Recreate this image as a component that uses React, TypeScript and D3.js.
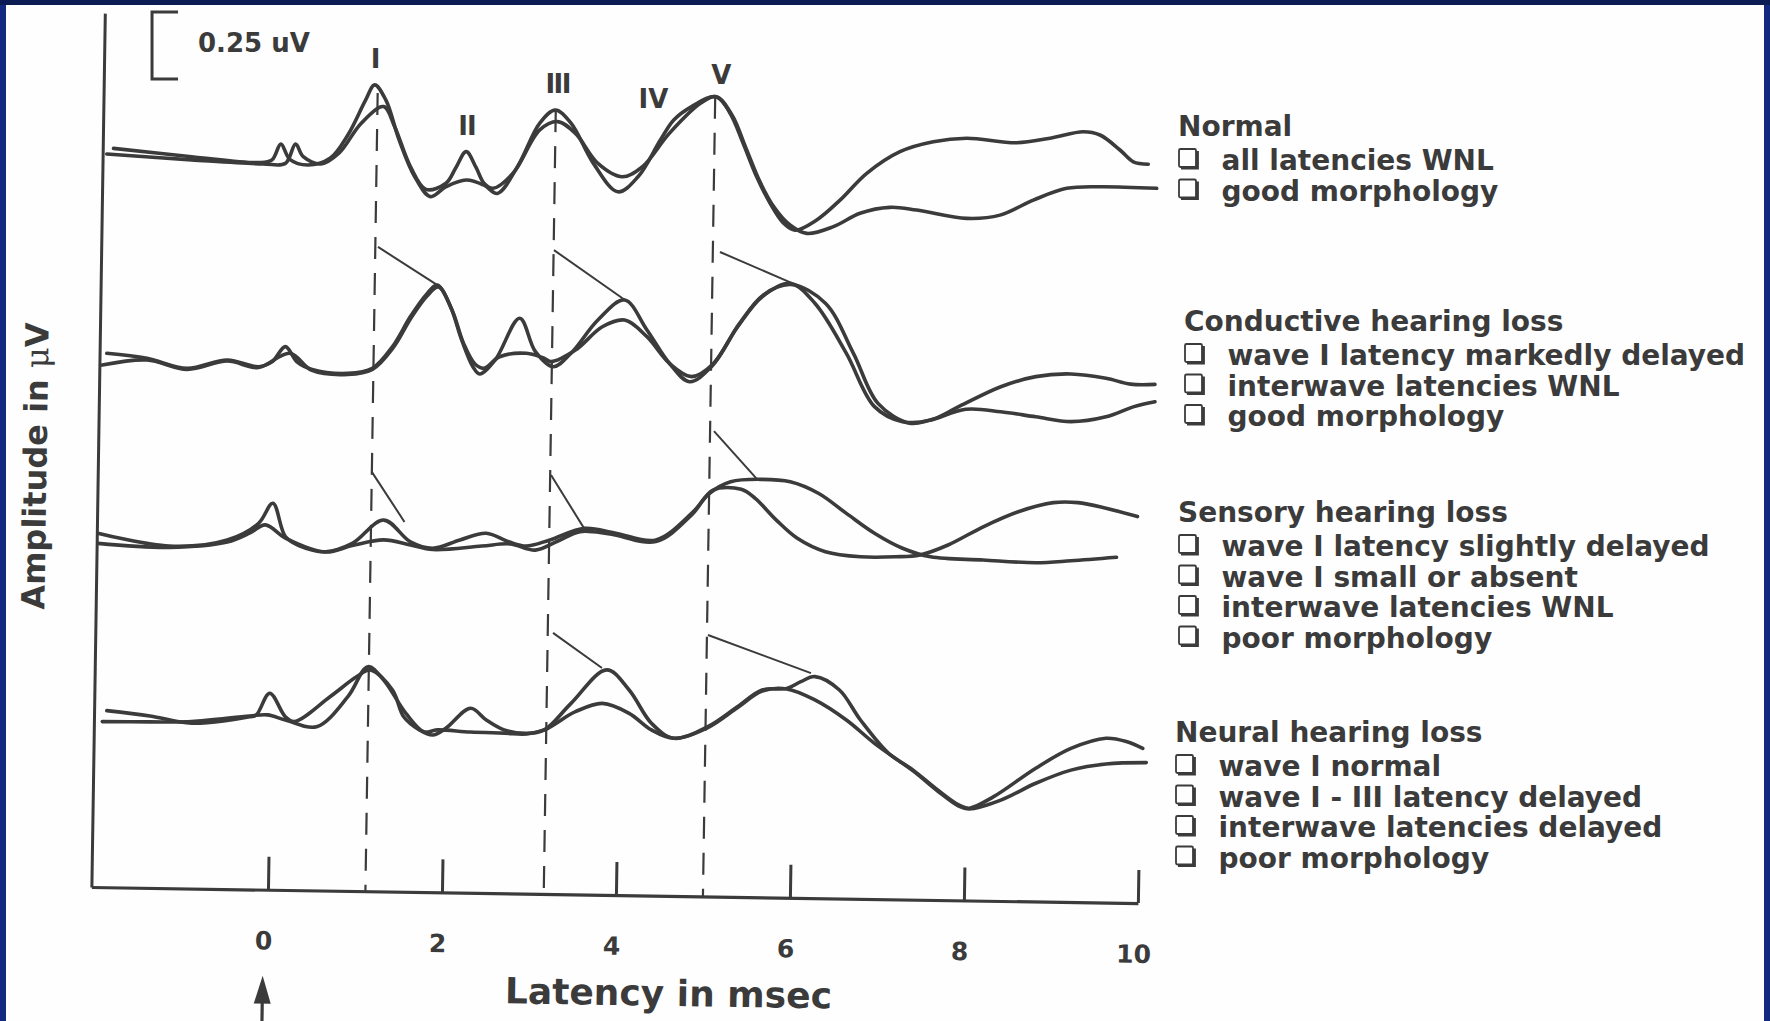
import React, { useEffect, useRef } from "react";
import * as d3 from "d3";

type Pt = [number, number]; // [latency in ms, amplitude in µV]

// ---------- data ----------
const xTicks = [0, 2, 4, 6, 8, 10];

const rowNames = [
  "Normal",
  "Conductive hearing loss",
  "Sensory hearing loss",
  "Neural hearing loss",
];
const rowFindings = [
  ["all latencies WNL", "good morphology"],
  ["wave I latency markedly delayed", "interwave latencies WNL", "good morphology"],
  ["wave I latency slightly delayed", "wave I small or absent", "interwave latencies WNL", "poor morphology"],
  ["wave I normal", "wave I - III latency delayed", "interwave latencies delayed", "poor morphology"],
];

const waveNames = ["I", "II", "III", "IV", "V"];
const waveLatency = [1.236, 2.287, 3.33, 4.43, 5.21];
const waveLabelAmp = [0.306, 0.056, 0.213, 0.157, 0.246];

const refLatency = [1.12, 3.17, 5.0]; // dashed reference lines (I, III, V)
const refTopAmp = [0.229, 0.175, 0.234];

const scaleBarUV = 0.25;

const normalA: Pt[] = [
  [-1.776, 0.006], [-0.878, -0.025], [-0.108, -0.047], [0.046, -0.037], [0.148, 0.022], [0.251, -0.035],
  [0.456, -0.056], [0.713, -0.031], [0.918, 0.056], [1.123, 0.187], [1.225, 0.243], [1.354, 0.187],
  [1.508, 0.037], [1.687, -0.1], [1.867, -0.174], [2.046, -0.137], [2.278, -0.112], [2.483, -0.131],
  [2.637, -0.162], [2.868, -0.062], [3.124, 0.1], [3.303, 0.149], [3.483, 0.1], [3.74, -0.05],
  [4.022, -0.156], [4.253, -0.1], [4.51, 0.037], [4.664, 0.112], [4.869, 0.162], [5.152, 0.199],
  [5.31, 0.138], [5.46, 0.026], [5.617, -0.1], [5.77, -0.198], [5.923, -0.272], [6.057, -0.299],
  [6.307, -0.261], [6.575, -0.187], [6.882, -0.087], [7.264, -0.006], [7.647, 0.031], [8.031, 0.044],
  [8.606, 0.027], [8.989, 0.044], [9.371, 0.068], [9.563, 0.056], [9.793, 0.0], [9.946, -0.044],
  [10.118, -0.053],
];
const normalB: Pt[] = [
  [-1.853, -0.015], [-0.878, -0.037], [-0.057, -0.052], [0.2, -0.05], [0.317, 0.022], [0.405, -0.025],
  [0.609, -0.052], [0.815, -0.012], [1.072, 0.1], [1.329, 0.162], [1.456, 0.087], [1.637, -0.062],
  [1.816, -0.147], [2.046, -0.124], [2.161, -0.065], [2.278, -0.006], [2.391, -0.065], [2.483, -0.124],
  [2.586, -0.143], [2.816, -0.087], [3.124, 0.075], [3.33, 0.106], [3.534, 0.062], [3.792, -0.05],
  [4.074, -0.1], [4.305, -0.062], [4.613, 0.062], [4.971, 0.174], [5.152, 0.199], [5.333, 0.131],
  [5.494, 0.007], [5.655, -0.119], [5.816, -0.213], [6.0, -0.28], [6.192, -0.311], [6.498, -0.286],
  [6.805, -0.236], [7.149, -0.214], [7.456, -0.224], [8.031, -0.255], [8.414, -0.243], [8.797, -0.187],
  [9.18, -0.143], [9.563, -0.137], [10.215, -0.143],
];

const conductiveA: Pt[] = [
  [-1.853, 0.025], [-1.391, 0.006], [-0.93, -0.031], [-0.468, 0.0], [-0.108, -0.025], [0.046, -0.007],
  [0.2, 0.05], [0.333, -0.007], [0.506, -0.035], [0.918, -0.05], [1.2, -0.031], [1.431, 0.05],
  [1.637, 0.162], [1.816, 0.243], [1.944, 0.28], [2.098, 0.199], [2.226, 0.075], [2.355, -0.025],
  [2.432, -0.052], [2.611, 0.0], [2.893, 0.156], [3.074, 0.031], [3.278, -0.025], [3.483, 0.025],
  [3.792, 0.149], [4.099, 0.224], [4.356, 0.112], [4.613, -0.012], [4.844, -0.081], [5.097, -0.025],
  [5.399, 0.124], [5.68, 0.236], [6.003, 0.286], [6.286, 0.212], [6.648, 0.025], [6.971, -0.174],
  [7.293, -0.23], [7.616, -0.224], [7.939, -0.174], [8.423, -0.1], [8.825, -0.062], [9.229, -0.052],
  [9.632, -0.068], [9.914, -0.09], [10.195, -0.091],
];
const conductiveB: Pt[] = [
  [-1.905, -0.019], [-1.391, 0.0], [-0.93, -0.035], [-0.468, -0.004], [-0.108, -0.028], [0.251, 0.025],
  [0.506, -0.039], [0.918, -0.054], [1.2, -0.035], [1.437, 0.045], [1.644, 0.157], [1.828, 0.239],
  [1.96, 0.272], [2.115, 0.187], [2.247, 0.063], [2.379, -0.015], [2.483, -0.031], [2.662, 0.012],
  [2.97, 0.025], [3.176, 0.006], [3.253, -0.006], [3.534, 0.037], [3.843, 0.124], [4.099, 0.149],
  [4.356, 0.087], [4.613, -0.012], [4.869, -0.062], [5.115, -0.015], [5.414, 0.134], [5.695, 0.243],
  [6.011, 0.282], [6.407, 0.212], [6.729, 0.025], [7.011, -0.162], [7.375, -0.236], [7.616, -0.224],
  [8.02, -0.184], [8.423, -0.193], [8.825, -0.212], [9.229, -0.23], [9.632, -0.212], [9.954, -0.174],
  [10.195, -0.156],
];

const sensoryA: Pt[] = [
  [-1.955, 0.044], [-1.134, -0.004], [-0.468, 0.019], [-0.108, 0.081], [0.056, 0.156], [0.2, 0.031],
  [0.368, -0.004], [0.661, -0.025], [0.969, 0.006], [1.329, 0.093], [1.637, 0.012], [1.893, -0.012],
  [2.207, 0.019], [2.509, 0.044], [2.766, 0.012], [2.966, -0.004], [3.241, 0.019], [3.638, 0.062],
  [3.997, 0.044], [4.459, 0.019], [4.869, 0.118], [5.076, 0.193], [5.318, 0.236], [5.68, 0.245],
  [6.003, 0.236], [6.326, 0.193], [6.648, 0.118], [6.971, 0.044], [7.293, -0.012], [7.616, -0.044],
  [8.221, -0.056], [8.825, -0.066], [9.229, -0.059], [9.753, -0.046],
];
const sensoryB: Pt[] = [
  [-1.955, 0.006], [-1.134, -0.009], [-0.468, 0.011], [-0.207, 0.045], [-0.031, 0.075], [0.2, 0.026],
  [0.661, -0.026], [0.969, -0.002], [1.329, 0.019], [1.637, 0.0], [1.893, -0.017], [2.457, -0.004],
  [2.782, 0.004], [3.074, -0.019], [3.333, 0.015], [3.586, 0.05], [3.931, 0.041], [4.459, 0.013],
  [4.869, 0.112], [5.115, 0.205], [5.439, 0.208], [5.6, 0.174], [5.843, 0.093], [6.084, 0.025],
  [6.407, -0.025], [6.81, -0.044], [7.213, -0.044], [7.494, -0.037], [7.817, 0.0], [8.221, 0.068],
  [8.624, 0.124], [9.028, 0.158], [9.309, 0.158], [9.632, 0.137], [9.994, 0.106],
];

const neuralA: Pt[] = [
  [-1.853, 0.035], [-1.356, 0.015], [-0.878, -0.012], [-0.211, 0.012], [-0.134, 0.019], [0.02, 0.1],
  [0.2, 0.012], [0.302, -0.006], [0.713, 0.087], [1.021, 0.162], [1.175, 0.187], [1.431, 0.112],
  [1.56, 0.012], [1.739, -0.037], [1.893, -0.056], [2.044, -0.031], [2.329, 0.044], [2.509, 0.0],
  [2.714, -0.037], [2.97, -0.05], [3.176, -0.037], [3.483, 0.062], [3.894, 0.187], [4.151, 0.112],
  [4.407, -0.012], [4.664, -0.068], [5.056, -0.025], [5.399, 0.05], [5.68, 0.112], [5.963, 0.118],
  [6.124, 0.143], [6.286, 0.162], [6.568, 0.112], [6.81, 0.0], [7.132, -0.124], [7.415, -0.187],
  [7.697, -0.261], [7.939, -0.317], [8.06, -0.329], [8.341, -0.286], [8.825, -0.18], [9.229, -0.106],
  [9.632, -0.068], [9.874, -0.081], [10.055, -0.106],
];
const neuralB: Pt[] = [
  [-1.905, -0.006], [-1.356, -0.007], [-0.878, -0.006], [-0.211, 0.015], [-0.006, 0.019], [0.2, 0.0],
  [0.559, -0.025], [0.918, 0.087], [1.149, 0.199], [1.329, 0.149], [1.585, 0.025], [1.791, -0.044],
  [1.944, -0.037], [2.322, -0.045], [2.713, -0.049], [2.97, -0.052], [3.176, -0.037], [3.534, 0.031],
  [3.843, 0.062], [4.151, 0.025], [4.407, -0.037], [4.664, -0.068], [5.056, -0.028], [5.399, 0.047],
  [5.68, 0.108], [5.963, 0.116], [6.286, 0.075], [6.648, 0.0], [6.971, -0.087], [7.415, -0.19],
  [7.697, -0.265], [7.939, -0.321], [8.06, -0.332], [8.423, -0.299], [8.825, -0.236], [9.229, -0.187],
  [9.632, -0.164], [10.095, -0.159],
];

// leader lines: from reference latency to the delayed peak
const conductiveLeaders: [Pt, Pt][] = [
  [[1.264, 0.422], [1.943, 0.28]],
  [[3.287, 0.41], [4.103, 0.224]],
  [[5.195, 0.403], [6.023, 0.287]],
];
const sensoryLeaders: [Pt, Pt][] = [
  [[1.195, 0.272], [1.569, 0.086]],
  [[3.253, 0.261], [3.632, 0.063]],
  [[5.126, 0.425], [5.621, 0.246]],
];
const neuralLeaders: [Pt, Pt][] = [
  [[3.276, 0.325], [3.839, 0.194]],
  [[5.057, 0.317], [6.241, 0.175]],
];

// ---------- layout ----------
const W = 1770;
const H = 1021;
const INK = "#3b3b3b";
const FONT = "'DejaVu Sans', 'Liberation Sans', sans-serif";
const rowBase = [150, 360, 545, 720];
const legendX = [1178, 1184, 1178, 1175];
const legendY = [136, 331, 522, 742];
const AXIS_Y = 887;
const AXIS_TOP = 13;
const LEFT_T = -2.03;
const ROT = 0.88;

export default function App() {
  const xAxisRef = useRef<SVGGElement>(null);
  const yAxisRef = useRef<SVGGElement>(null);

  const x = d3.scaleLinear().domain([0, 10]).range([268, 1138]);
  const rowY = rowBase.map((b) => d3.scaleLinear().domain([0, scaleBarUV]).range([b, b - 67]));
  const pathFor = (ys: d3.ScaleLinear<number, number>) =>
    d3
      .line<Pt>()
      .x((d) => x(d[0]))
      .y((d) => ys(d[1]))
      .curve(d3.curveCatmullRom.alpha(0.5));

  const rowTraces: Pt[][][] = [
    [normalA, normalB],
    [conductiveA, conductiveB],
    [sensoryA, sensoryB],
    [neuralA, neuralB],
  ];
  const rowLeaders: [Pt, Pt][][] = [[], conductiveLeaders, sensoryLeaders, neuralLeaders];

  const x0 = x(LEFT_T);

  useEffect(() => {
    document.body.style.margin = "0";
    document.body.style.overflow = "hidden";
    const axisScale = d3.scaleLinear().domain([LEFT_T, 10]).range([x(LEFT_T), x(10)]);
    const gx = d3.select(xAxisRef.current!);
    gx.call(
      d3
        .axisBottom(axisScale)
        .tickValues(xTicks)
        .tickSize(-33)
        .tickSizeOuter(0)
        .tickPadding(42)
        .tickFormat(d3.format("d"))
    );
    gx.select(".domain").attr("stroke", INK).attr("stroke-width", 3.2);
    gx.selectAll(".tick line").attr("stroke", INK).attr("stroke-width", 3);
    gx.selectAll(".tick text")
      .attr("fill", INK)
      .attr("font-family", FONT)
      .attr("font-weight", "bold")
      .attr("font-size", 25)
      .attr("dx", -4);

    const yScale = d3.scaleLinear().domain([0, 1]).range([AXIS_Y, AXIS_TOP]);
    const gy = d3.select(yAxisRef.current!);
    gy.call(d3.axisLeft(yScale).tickValues([]).tickSizeOuter(0));
    gy.select(".domain").attr("stroke", INK).attr("stroke-width", 3);
  }, []);

  const arrowX = x(0) - 4;

  return (
    <svg
      width={W}
      height={H}
      style={{ position: "absolute", left: 0, top: 0, display: "block" }}
    >
      <rect x={0} y={0} width={W} height={H} fill="#12297d" />
      <rect x={0} y={0} width={W} height={5} fill="#0b1c55" />
      <rect x={6} y={5} width={W - 12} height={H - 5} fill="#fefefe" />

      {/* scaffolding, slightly rotated like the scanned page */}
      <g transform={`rotate(${ROT}, ${x0}, ${AXIS_Y})`}>
        <g ref={xAxisRef} transform={`translate(0, ${AXIS_Y})`} />
        <g ref={yAxisRef} transform={`translate(${x0}, 0)`} />
        {refLatency.map((t, i) => (
          <line
            key={"ref" + i}
            x1={x(t)}
            x2={x(t)}
            y1={rowY[0](refTopAmp[i])}
            y2={AXIS_Y}
            stroke={INK}
            strokeWidth={2.2}
            strokeDasharray="22 14"
          />
        ))}
        <path
          d={`M${arrowX},${AXIS_Y + 86} l-8.5,28 l17,0 z`}
          fill={INK}
        />
        <line x1={arrowX} x2={arrowX} y1={AXIS_Y + 105} y2={AXIS_Y + 160} stroke={INK} strokeWidth={3.2} />
        <text
          x={670}
          y={997}
          textAnchor="middle"
          fontFamily={FONT}
          fontWeight="bold"
          fontSize={36}
          fill={INK}
        >
          Latency in msec
        </text>
        <text
          transform={`translate(40, 467) rotate(-90)`}
          textAnchor="middle"
          fontFamily={FONT}
          fontWeight="bold"
          fontSize={32}
          fill={INK}
        >
          Amplitude in{" "}
          <tspan fontFamily="'DejaVu Serif', serif" fontWeight="normal">
            μ
          </tspan>
          V
        </text>
      </g>

      {/* calibration bar */}
      <path
        d={`M${x(-1.333) + 26},${rowY[0](0.265 + scaleBarUV)} H${x(-1.333)} V${rowY[0](0.265)} H${x(-1.333) + 26}`}
        fill="none"
        stroke={INK}
        strokeWidth={3}
      />
      <text x={198} y={52} fontFamily={FONT} fontWeight="bold" fontSize={26} fill={INK}>
        0.25 uV
      </text>

      {/* wave labels */}
      {waveNames.map((n, i) => (
        <text
          key={n}
          x={x(waveLatency[i])}
          y={rowY[0](waveLabelAmp[i])}
          textAnchor="middle"
          fontFamily={FONT}
          fontWeight="bold"
          fontSize={26}
          letterSpacing={n === "III" ? -1.5 : n === "II" ? -1 : 0}
          fill={INK}
        >
          {n}
        </text>
      ))}

      {/* traces */}
      {rowTraces.map((traces, r) =>
        traces.map((tr, k) => (
          <path
            key={`tr${r}-${k}`}
            d={pathFor(rowY[r])(tr) || ""}
            fill="none"
            stroke={INK}
            strokeWidth={3.6}
            strokeLinejoin="round"
            strokeLinecap="round"
          />
        ))
      )}

      {/* leader lines */}
      {rowLeaders.map((ls, r) =>
        ls.map((l, k) => (
          <line
            key={`ld${r}-${k}`}
            x1={x(l[0][0])}
            y1={rowY[r](l[0][1])}
            x2={x(l[1][0])}
            y2={rowY[r](l[1][1])}
            stroke={INK}
            strokeWidth={2}
          />
        ))
      )}

      {/* legend */}
      {rowNames.map((name, r) => (
        <g key={"lg" + r} fontFamily={FONT} fontWeight="bold" fontSize={28} fill={INK}>
          <text x={legendX[r]} y={legendY[r]}>
            {name}
          </text>
          {rowFindings[r].map((f, j) => {
            const by = legendY[r] + 34 + j * 30.5;
            const bx = legendX[r];
            return (
              <g key={j}>
                <rect x={bx + 1} y={by - 21} width={17} height={18} rx={1.5} fill="none" stroke={INK} strokeWidth={1.8} />
                <path
                  d={`M${bx + 3},${by - 2} H${bx + 19.5} V${by - 19}`}
                  fill="none"
                  stroke={INK}
                  strokeWidth={2.8}
                />
                <text x={bx + 43.5} y={by}>
                  {f}
                </text>
              </g>
            );
          })}
        </g>
      ))}
    </svg>
  );
}
